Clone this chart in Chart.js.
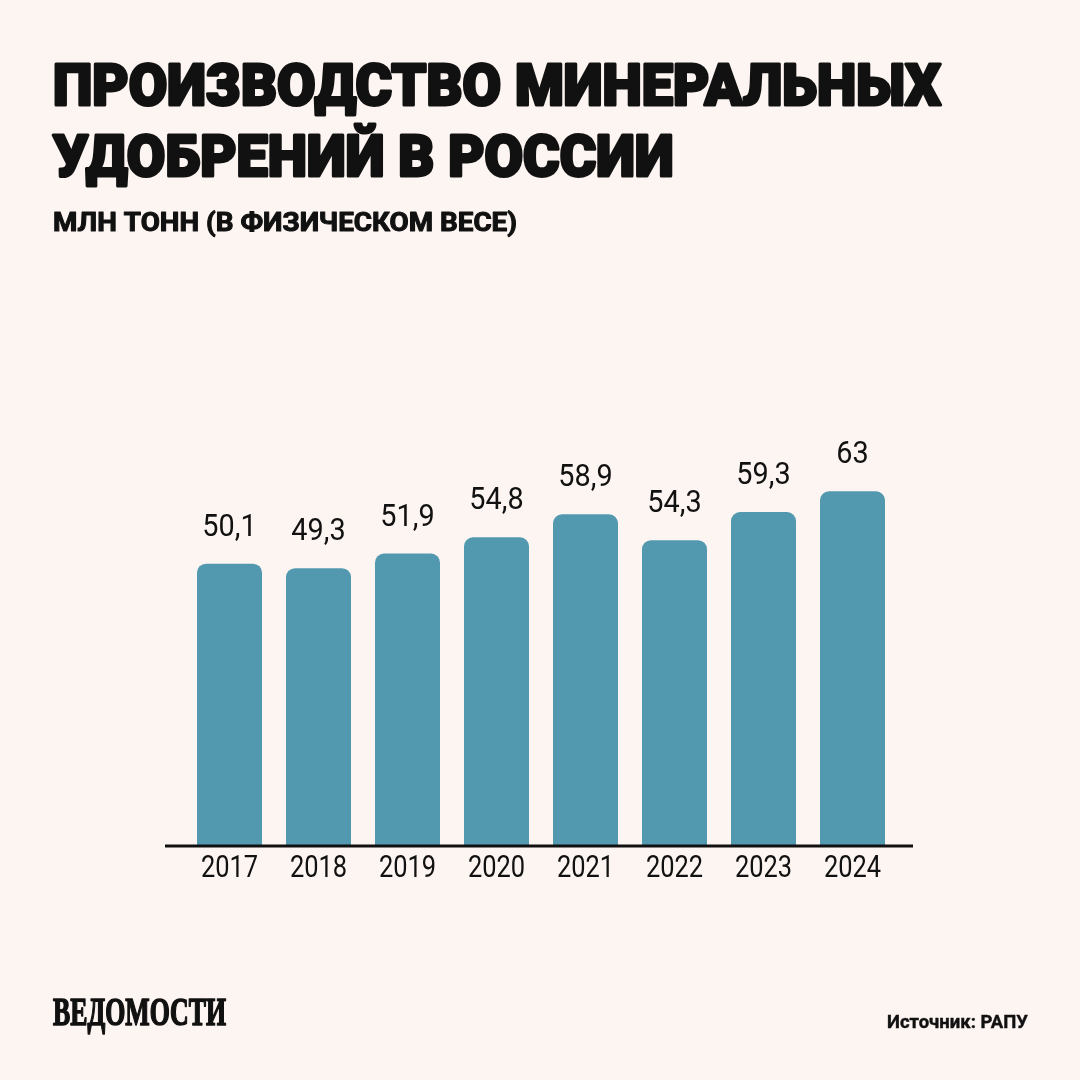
<!DOCTYPE html>
<html lang="ru">
<head>
<meta charset="utf-8">
<script src="https://cdn.jsdelivr.net/npm/chart.js@4/dist/chart.umd.min.js"></script>
<style>
  html, body { margin: 0; padding: 0; background: #fdf5f2; }
  #wrap { width: 1080px; height: 1080px; }
</style>
</head>
<body>
<div id="wrap"><canvas id="fertChart" width="1080" height="1080"></canvas></div>
<script>
  const years = ["2017", "2018", "2019", "2020", "2021", "2022", "2023", "2024"];
  const production = [50.1, 49.3, 51.9, 54.8, 58.9, 54.3, 59.3, 63];

  const titleLines = ["ПРОИЗВОДСТВО МИНЕРАЛЬНЫХ", "УДОБРЕНИЙ В РОССИИ"];
  const subtitle = "МЛН ТОНН (В ФИЗИЧЕСКОМ ВЕСЕ)";
  const logoText = "ВЕДОМОСТИ";
  const sourceText = "Источник: РАПУ";

  const BG = "#fdf5f2";
  const BAR = "#5299b0";
  const INK = "#111111";

  // draws text squeezed horizontally (condensed look), optional outline to fatten it
  function drawScaled(ctx, text, x, y, font, sx, align = "left", fatten = 0) {
    ctx.save();
    ctx.font = font;
    ctx.textAlign = align;
    ctx.textBaseline = "alphabetic";
    ctx.translate(x, y);
    ctx.scale(sx, 1);
    ctx.fillText(text, 0, 0);
    if (fatten > 0) {
      ctx.strokeStyle = ctx.fillStyle;
      ctx.lineWidth = fatten;
      ctx.lineJoin = "round";
      ctx.strokeText(text, 0, 0);
    }
    ctx.restore();
  }

  function fitScale(ctx, text, font, width) {
    ctx.save();
    ctx.font = font;
    const w = ctx.measureText(text).width;
    ctx.restore();
    return width / w;
  }

  const decorPlugin = {
    id: "decor",
    beforeDraw(chart) {
      const ctx = chart.ctx;
      ctx.save();
      ctx.fillStyle = BG;
      ctx.fillRect(0, 0, chart.width, chart.height);
      ctx.restore();
    },
    afterDatasetsDraw(chart) {
      const ctx = chart.ctx;
      const { left, right } = chart.chartArea;
      const y0 = chart.scales.y.getPixelForValue(0);
      const xs = chart.scales.x;

      // baseline
      ctx.save();
      ctx.strokeStyle = INK;
      ctx.lineWidth = 3;
      ctx.beginPath();
      ctx.moveTo(left - 20, y0 + 1);
      ctx.lineTo(right + 16, y0 + 1);
      ctx.stroke();
      ctx.restore();

      ctx.fillStyle = INK;

      // value labels
      const meta = chart.getDatasetMeta(0);
      meta.data.forEach((bar, i) => {
        const label = String(production[i]).replace(".", ",");
        drawScaled(ctx, label, bar.x, bar.y - 28, "400 31px Roboto", 0.93, "center");
      });

      // year labels
      years.forEach((yr, i) => {
        drawScaled(ctx, yr, xs.getPixelForValue(i), 877, "400 31px Roboto", 0.82, "center");
      });

      // title block
      const tFont = "900 58px Roboto";
      const tScale = fitScale(ctx, titleLines[0], tFont, 888);
      drawScaled(ctx, titleLines[0], 53, 105, tFont, tScale, "left", 3);
      drawScaled(ctx, titleLines[1], 53, 176, tFont, tScale, "left", 3);

      const sFont = "700 25px Roboto";
      drawScaled(ctx, subtitle, 53, 231, sFont, fitScale(ctx, subtitle, sFont, 464), "left", 1);

      // footer
      const lFont = "700 39px 'Liberation Serif'";
      drawScaled(ctx, logoText, 53, 1025, lFont, fitScale(ctx, logoText, lFont, 173), "left", 1.6);

      const srcFont = "700 18px Roboto";
      drawScaled(ctx, sourceText, 1028, 1028, srcFont, fitScale(ctx, sourceText, srcFont, 141), "right", 0.4);
    },
  };

  function render() {
    const ctx = document.getElementById("fertChart").getContext("2d");
    new Chart(ctx, {
      type: "bar",
      data: {
        labels: years,
        datasets: [
          {
            data: production,
            backgroundColor: BAR,
            borderRadius: { topLeft: 9, topRight: 9 },
            borderSkipped: "start",
            categoryPercentage: 1,
            barPercentage: 65 / 89,
          },
        ],
      },
      options: {
        responsive: false,
        animation: false,
        layout: {
          padding: { left: 185, right: 183, top: 452, bottom: 235 },
        },
        plugins: {
          legend: { display: false },
          tooltip: { enabled: false },
          title: { display: false },
        },
        scales: {
          x: { display: false },
          y: { display: false, min: 0, max: 70 },
        },
      },
      plugins: [decorPlugin],
    });
  }

  render();
</script>
</body>
</html>
